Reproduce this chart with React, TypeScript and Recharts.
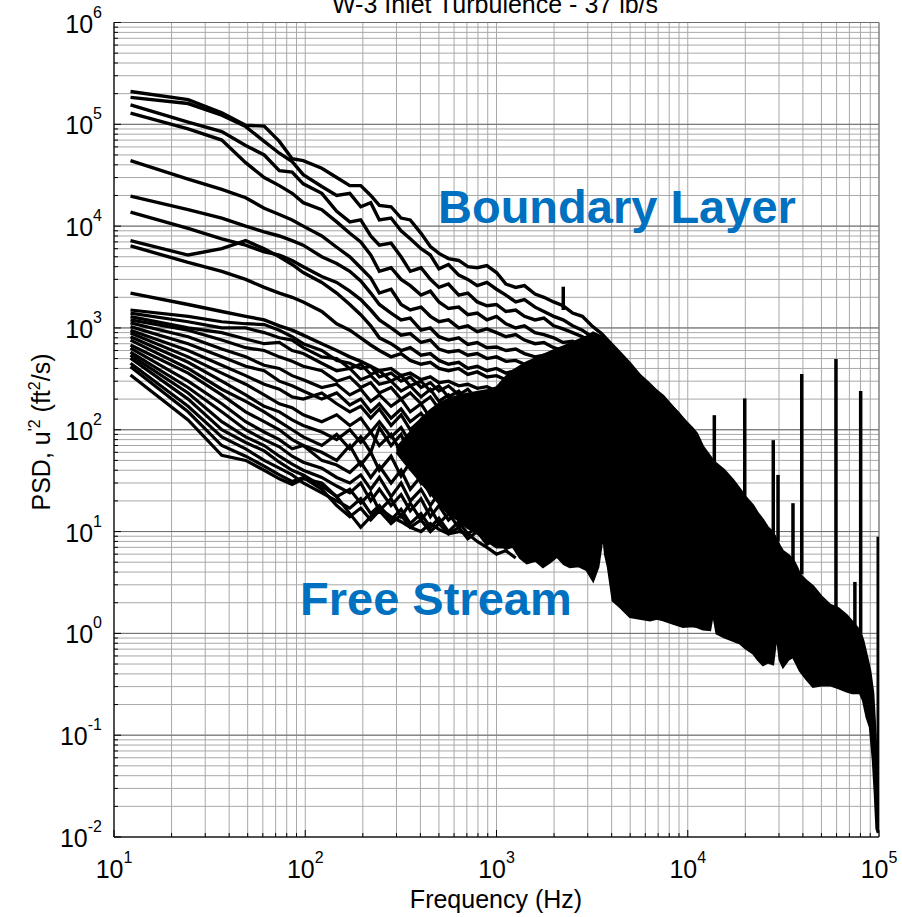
import React from "react";
import { ComposedChart, Line, Area, XAxis, YAxis, CartesianGrid } from "recharts";

const FONT = "'Liberation Sans', Arial, Helvetica, sans-serif";
const BLUE = "#0070C0";

// axis ticks (decades + 2..9 minors)
const xMajor = [10, 100, 1000, 10000, 100000];
const yMajor = [0.01, 0.1, 1, 10, 100, 1000, 10000, 100000, 1000000];
const minorSteps = [2, 3, 4, 5, 6, 7, 8, 9];

const withMinors = (majors: number[]) =>
  [...majors, ...majors.slice(0, -1).flatMap((d) => minorSteps.map((m) => d * m))].sort((a, b) => a - b);
const xTicks = withMinors(xMajor);
const yTicks = withMinors(yMajor);

// frequency bins used by the individual PSD curves (Hz)
const freqHz = [
  12.2, 24.4, 36.6, 48.8, 61, 73.2, 85.4, 97.6, 122, 146, 171, 195, 220, 244, 281, 317, 354, 403, 451, 500,
  561, 635, 708, 793, 891, 1000, 1120, 1260, 1400, 1590, 1770, 1990, 2230, 2500, 2810, 3150, 3540, 3970, 4450,
  5000, 5610, 6300, 7070, 7940, 8910, 10000,
];

// boundary layer probes (ft^2/s)
const bl1 = [2.1e5, 1.75e5, 1.3e5, 9.8e4, 9.6e4, 6.8e4, 4.6e4, 4.4e4, 3.7e4, 3.0e4, 2.5e4, 2.5e4, 2.0e4, 1.6e4, 1.55e4, 1.2e4, 1.15e4, 8.5e3, 6.3e3, 5.4e3, 4.8e3, 4.6e3, 4.0e3, 3.9e3, 4.1e3, 3.5e3, 2.7e3, 2.5e3, 2.6e3, 2.15e3, 2.0e3, 1.8e3, 1.65e3, 1.4e3, 1.3e3, 1.05e3, 880, 700, 560, 440, 340, 280, 225, 180, 145, 112];
const bl2 = [1.84e5, 1.6e5, 1.23e5, 9.5e4, 6.8e4, 5.2e4, 4.3e4, 3.2e4, 2.45e4, 2.0e4, 2.1e4, 1.55e4, 1.7e4, 1.15e4, 1.2e4, 9.0e3, 7.5e3, 6.0e3, 5.2e3, 3.8e3, 4.2e3, 3.3e3, 3.0e3, 2.6e3, 2.8e3, 2.4e3, 2.1e3, 1.8e3, 1.9e3, 1.6e3, 1.45e3, 1.3e3, 1.2e3, 1.05e3, 950, 820, 720, 600, 500, 400, 320, 260, 215, 170, 135, 105];
const bl3 = [1.55e5, 1.05e5, 8.5e4, 6.2e4, 5.0e4, 3.5e4, 3.4e4, 2.6e4, 2.1e4, 1.4e4, 1.1e4, 1.15e4, 8.0e3, 6.5e3, 6.8e3, 5.0e3, 3.6e3, 3.9e3, 3.0e3, 2.5e3, 2.7e3, 2.1e3, 2.2e3, 1.8e3, 1.65e3, 1.7e3, 1.45e3, 1.5e3, 1.3e3, 1.2e3, 1.25e3, 1.05e3, 980, 900, 820, 700, 620, 520, 450, 370, 300, 250, 205, 160, 130, 100];
const bl4 = [1.29e5, 9.0e4, 7.0e4, 4.2e4, 3.0e4, 2.5e4, 2.1e4, 1.7e4, 1.45e4, 1.1e4, 8.5e3, 7.0e3, 5.2e3, 3.6e3, 3.9e3, 3.0e3, 2.6e3, 2.1e3, 2.3e3, 1.8e3, 1.55e3, 1.6e3, 1.35e3, 1.4e3, 1.2e3, 1.3e3, 1.1e3, 1.0e3, 1.05e3, 900, 860, 800, 720, 740, 640, 560, 490, 430, 390, 330, 280, 235, 190, 150, 122, 96];
const bl5 = [4.4e4, 2.9e4, 2.3e4, 1.9e4, 1.5e4, 1.3e4, 1.15e4, 1.0e4, 8.0e3, 6.2e3, 5.0e3, 3.9e3, 3.1e3, 2.2e3, 2.4e3, 1.7e3, 1.5e3, 1.6e3, 1.3e3, 1.15e3, 1.2e3, 1.0e3, 1.05e3, 920, 980, 900, 820, 860, 760, 700, 720, 640, 600, 560, 580, 500, 450, 400, 360, 310, 265, 220, 180, 145, 118, 92];
const bl6 = [1.97e4, 1.45e4, 1.2e4, 1.0e4, 8.8e3, 8.0e3, 7.2e3, 6.5e3, 5.0e3, 4.3e3, 3.6e3, 2.9e3, 2.2e3, 1.7e3, 1.4e3, 1.2e3, 1.25e3, 950, 1.0e3, 820, 760, 800, 690, 720, 640, 650, 600, 620, 560, 520, 540, 480, 470, 440, 450, 400, 380, 350, 320, 280, 240, 205, 170, 140, 112, 88];
const bl7 = [1.37e4, 9.5e3, 7.5e3, 6.5e3, 5.6e3, 5.2e3, 4.6e3, 4.0e3, 3.2e3, 2.8e3, 2.3e3, 1.9e3, 1.5e3, 1.2e3, 1.0e3, 850, 880, 720, 760, 620, 580, 600, 540, 560, 500, 520, 470, 480, 440, 420, 430, 390, 400, 370, 380, 340, 330, 300, 280, 250, 220, 190, 160, 132, 108, 85];
const bl8 = [7.2e3, 5.2e3, 6.0e3, 7.2e3, 6.0e3, 5.0e3, 4.2e3, 3.5e3, 2.8e3, 2.2e3, 1.7e3, 1.35e3, 1.05e3, 800, 700, 600, 640, 540, 560, 480, 440, 460, 400, 420, 380, 400, 360, 380, 340, 320, 340, 310, 320, 290, 300, 280, 270, 250, 240, 215, 190, 170, 145, 120, 100, 80];
const bl9 = [6.4e3, 4.4e3, 3.6e3, 3.0e3, 2.5e3, 2.2e3, 2.0e3, 1.8e3, 1.45e3, 1.1e3, 950, 800, 680, 600, 520, 560, 480, 440, 460, 400, 380, 400, 350, 370, 330, 340, 310, 320, 290, 280, 300, 270, 280, 260, 265, 245, 240, 225, 215, 195, 175, 155, 135, 112, 95, 76];
const bl10 = [2.2e3, 1.7e3, 1.45e3, 1.3e3, 1.2e3, 1.05e3, 950, 850, 700, 600, 520, 470, 420, 380, 400, 340, 360, 310, 330, 290, 300, 270, 280, 255, 265, 240, 250, 230, 235, 215, 225, 205, 210, 195, 200, 185, 180, 170, 165, 150, 138, 125, 110, 95, 82, 68];

// free stream probes, first 28 bins (to ~1.3 kHz)
const fs1 = [1500, 1300, 1150, 1100, 1080, 950, 820, 700, 600, 480, 450, 400, 420, 330, 360, 300, 330, 260, 290, 240, 270, 220, 250, 200, 230, 190, 210, 175];
const fs2 = [1400, 1150, 1000, 1000, 900, 800, 760, 640, 520, 500, 400, 440, 350, 380, 300, 340, 270, 300, 240, 270, 210, 240, 190, 220, 170, 190, 160, 175];
const fs3 = [1290, 1000, 900, 780, 700, 720, 600, 560, 450, 380, 400, 310, 340, 280, 300, 240, 270, 210, 250, 190, 220, 175, 200, 160, 180, 145, 165, 140];
const fs4 = [1200, 950, 760, 640, 600, 520, 470, 420, 380, 300, 330, 260, 290, 230, 260, 200, 230, 180, 210, 160, 190, 140, 165, 130, 150, 120, 140, 115];
const fs5 = [1120, 820, 620, 520, 430, 400, 340, 310, 260, 280, 220, 250, 190, 220, 170, 200, 150, 180, 130, 160, 120, 140, 110, 130, 95, 115, 90, 100];
const fs6 = [1030, 700, 520, 420, 380, 300, 270, 240, 200, 230, 175, 200, 150, 180, 130, 160, 120, 145, 110, 130, 95, 115, 85, 100, 75, 90, 70, 80];
const fs7 = [950, 600, 430, 340, 280, 250, 210, 200, 230, 180, 150, 170, 130, 160, 110, 140, 100, 125, 90, 110, 80, 95, 70, 85, 62, 75, 56, 65];
const fs8 = [890, 520, 360, 280, 220, 180, 165, 140, 120, 140, 110, 130, 95, 120, 85, 105, 75, 95, 65, 85, 60, 75, 52, 65, 45, 55, 40, 48];
const fs9 = [820, 460, 300, 220, 170, 150, 125, 110, 95, 80, 100, 75, 95, 70, 90, 60, 80, 55, 70, 50, 65, 45, 58, 40, 50, 36, 44, 32];
const fs10 = [760, 400, 250, 190, 150, 120, 100, 85, 70, 90, 65, 85, 60, 105, 70, 90, 55, 75, 48, 62, 42, 55, 36, 48, 32, 40, 28, 34];
const fs11 = [680, 360, 220, 150, 120, 100, 80, 70, 60, 50, 70, 45, 60, 40, 55, 35, 48, 30, 42, 28, 36, 24, 32, 21, 28, 18, 24, 16];
const fs12 = [635, 300, 180, 120, 95, 80, 65, 70, 50, 45, 38, 48, 34, 44, 30, 40, 26, 35, 23, 30, 20, 27, 18, 24, 16, 20, 14, 17];
const fs13 = [580, 260, 150, 100, 80, 68, 55, 48, 42, 34, 30, 36, 26, 34, 22, 30, 20, 26, 18, 24, 16, 21, 14, 18, 12.5, 15, 11, 13];
const fs14 = [540, 230, 120, 85, 70, 55, 46, 40, 34, 28, 24, 30, 20, 26, 18, 23, 16, 21, 14, 18, 13, 16, 11.5, 14, 10.5, 12.5, 9.5, 11];
const fs15 = [505, 200, 100, 75, 62, 48, 40, 36, 28, 22, 26, 19, 24, 16, 21, 14, 19, 13, 17, 12, 15, 11, 13.5, 10, 12, 9, 10.5, 8.5];
const fs16 = [450, 170, 85, 65, 50, 42, 36, 30, 24, 20, 17, 21, 15, 18, 13, 16.5, 12, 15, 11, 13.5, 10, 12.5, 9.5, 11, 8.5, 10, 7.5, 8.5];
const fs17 = [415, 150, 70, 55, 44, 36, 31, 34, 26, 18, 14, 17, 13, 16, 12, 14.5, 11, 13, 10, 12, 9.5, 11, 8.5, 10, 7.5, 8.5, 6.8, 7.5];
const fs18 = [345, 125, 56, 50, 40, 33, 29, 33, 30, 22, 15, 11, 14, 17, 14, 12.5, 11, 10, 12, 10.5, 9.5, 10, 9.5, 8, 7, 6, 6.5, 5.5];

// envelope of the dense cloud where all probes overlap
const bandHz = [300, 350, 400, 450, 500, 560, 630, 700, 800, 900, 1000, 1120, 1220, 1330, 1440, 1600, 1750, 1900, 2070, 2250, 2420, 2680, 2960, 3200, 3400, 3520, 3610, 3700, 3830, 4060, 4450, 4990, 5610, 6350, 6900, 7430, 8400, 9450, 10500, 11140, 12020, 13070, 13550, 14170, 15500, 17240, 18750, 20000, 21930, 23300, 24740, 26200, 27900, 29190, 30300, 31490, 33500, 35500, 37100, 38600, 41500, 45200, 50000, 55500, 61500, 67800, 72500, 79600, 82600, 86300, 89800, 93100, 95300, 97200, 99100];
const bandLow = [60, 42, 31, 24, 19, 15, 13, 11, 9.5, 8, 7, 7.0, 7.1, 5.5, 4.9, 5.2, 4.5, 5.0, 5.7, 4.8, 4.5, 4.6, 4.2, 3.3, 4.5, 7.0, 9.7, 6.0, 4.5, 2.1, 1.8, 1.45, 1.4, 1.35, 1.4, 1.35, 1.25, 1.16, 1.18, 1.16, 1.1, 1.08, 1.6, 1.0, 0.92, 0.85, 0.8, 0.72, 0.64, 0.55, 0.49, 0.52, 0.5, 1.0, 0.55, 0.47, 0.55, 0.59, 0.5, 0.43, 0.36, 0.3, 0.31, 0.31, 0.29, 0.27, 0.26, 0.26, 0.22, 0.15, 0.12, 0.056, 0.026, 0.012, 0.011];
const bandHigh = [66, 92, 125, 155, 180, 200, 215, 225, 235, 245, 260, 330, 380, 420, 460, 500, 540, 580, 620, 660, 700, 760, 820, 900, 850, 820, 800, 760, 700, 640, 540, 430, 340, 270, 240, 215, 165, 128, 105, 92, 68, 55, 50, 46, 40, 32, 26, 22, 18, 15, 13, 11, 9.8, 8.2, 7.2, 6.4, 5.9, 5.3, 4.5, 3.8, 3.3, 2.9, 2.3, 1.9, 1.75, 1.5, 1.3, 1.05, 0.85, 0.6, 0.43, 0.26, 0.12, 0.056, 0.025];

// narrow tonal peaks
const spikeHz = [2234, 13770, 19860, 28000, 29650, 35500, 39450, 59560, 74800, 80200, 99100];
const spikeBase = [1500, 45, 20, 9, 8, 5, 3.8, 1.8, 1.2, 1.0, 0.011];
const spikePeak = [2540, 139, 203, 79, 36, 19, 352, 495, 3.2, 240, 8.9];

const boundaryLayer = [bl1, bl2, bl3, bl4, bl5, bl6, bl7, bl8, bl9, bl10];
const freeStream = [fs1, fs2, fs3, fs4, fs5, fs6, fs7, fs8, fs9, fs10, fs11, fs12, fs13, fs14, fs15, fs16, fs17, fs18];

const toSeries = (vals: number[]) => vals.map((v, i) => ({ f: freqHz[i], v }));
const bandData = bandHz.map((f, i) => ({ f, range: [bandLow[i], bandHigh[i]] }));
const spikeData = spikeHz.map((f, i) => [
  { f, v: spikeBase[i] },
  { f, v: spikePeak[i] },
]);

const expOf = (v: number) => String(Math.round(Math.log10(v)));

const BottomTick = (p: any) => {
  const v = p.payload.value;
  const major = xMajor.includes(v);
  return (
    <g>
      <line x1={p.x} x2={p.x} y1={p.y} y2={p.y - (major ? 7 : 4)} stroke="#000" />
      {major && (
        <text x={p.x} y={p.y + 41} textAnchor="middle" fontFamily={FONT} fontSize={25} fill="#000">
          10<tspan dy={-15} fontSize={16}>{expOf(v)}</tspan>
        </text>
      )}
    </g>
  );
};

const TopTick = (p: any) => {
  const major = xMajor.includes(p.payload.value);
  return <line x1={p.x} x2={p.x} y1={p.y} y2={p.y + (major ? 7 : 4)} stroke="#000" />;
};

const LeftTick = (p: any) => {
  const v = p.payload.value;
  const major = yMajor.includes(v);
  return (
    <g>
      <line x1={p.x} x2={p.x + (major ? 7 : 4)} y1={p.y} y2={p.y} stroke="#000" />
      {major && (
        <text x={p.x - 12} y={p.y + 10} textAnchor="end" fontFamily={FONT} fontSize={25} fill="#000">
          10<tspan dy={-15} fontSize={16}>{expOf(v)}</tspan>
        </text>
      )}
    </g>
  );
};

const RightTick = (p: any) => {
  const major = yMajor.includes(p.payload.value);
  return <line x1={p.x} x2={p.x - (major ? 7 : 4)} y1={p.y} y2={p.y} stroke="#000" />;
};

const logX = { type: "number" as const, scale: "log" as const, domain: [10, 100000], allowDataOverflow: true };
const logY = { type: "number" as const, scale: "log" as const, domain: [0.01, 1000000], allowDataOverflow: true };

export default function App() {
  return (
    <div style={{ position: "absolute", left: 0, top: 0, width: 902, height: 917, background: "#fff" }}>
      <ComposedChart width={902} height={917} data={bandData} margin={{ top: 22.5, right: 23, bottom: 0, left: 0 }}>
        <CartesianGrid stroke="#a8a8a8" strokeWidth={1} />
        <CartesianGrid xAxisId="maj" yAxisId="maj" stroke="#6e6e6e" strokeWidth={1} />
        <XAxis
          {...logX}
          dataKey="f"
          ticks={xTicks}
          interval={0}
          height={80}
          tickSize={0}
          tickMargin={0}
          tickLine={false}
          axisLine={{ stroke: "#000" }}
          tick={BottomTick}
        />
        <XAxis
          {...logX}
          xAxisId="top"
          orientation="top"
          ticks={xTicks}
          interval={0}
          height={0}
          tickSize={0}
          tickMargin={0}
          tickLine={false}
          axisLine={{ stroke: "#000" }}
          tick={TopTick}
        />
        <XAxis {...logX} xAxisId="maj" ticks={xMajor} hide />
        <YAxis
          {...logY}
          ticks={yTicks}
          interval={0}
          width={114}
          tickSize={0}
          tickMargin={0}
          tickLine={false}
          axisLine={{ stroke: "#000" }}
          tick={LeftTick}
        />
        <YAxis
          {...logY}
          yAxisId="right"
          orientation="right"
          ticks={yTicks}
          interval={0}
          width={0}
          tickSize={0}
          tickMargin={0}
          tickLine={false}
          axisLine={{ stroke: "#000" }}
          tick={RightTick}
        />
        <YAxis {...logY} yAxisId="maj" ticks={yMajor} hide />

        <Area
          dataKey="range"
          type="linear"
          stroke="#000"
          strokeWidth={2.5}
          fill="#000"
          fillOpacity={1}
          dot={false}
          activeDot={false}
          isAnimationActive={false}
        />
        {freeStream.map((vals, i) => (
          <Line
            key={`fs${i}`}
            data={toSeries(vals)}
            dataKey="v"
            type="linear"
            stroke="#000"
            strokeWidth={3.2}
            dot={false}
            activeDot={false}
            isAnimationActive={false}
          />
        ))}
        {boundaryLayer.map((vals, i) => (
          <Line
            key={`bl${i}`}
            data={toSeries(vals)}
            dataKey="v"
            type="linear"
            stroke="#000"
            strokeWidth={3.4}
            dot={false}
            activeDot={false}
            isAnimationActive={false}
          />
        ))}
        {spikeData.map((d, i) => (
          <Line
            key={`sp${i}`}
            data={d}
            dataKey="v"
            type="linear"
            stroke="#000"
            strokeWidth={3.5}
            dot={false}
            activeDot={false}
            isAnimationActive={false}
          />
        ))}
      </ComposedChart>

      <svg
        width={902}
        height={917}
        style={{ position: "absolute", left: 0, top: 0, pointerEvents: "none" }}
      >
        <text x={495} y={13} textAnchor="middle" fontFamily={FONT} fontSize={25} fill="#000">
          W-3 Inlet Turbulence - 37 lb/s
        </text>
        <text x={496} y={908} textAnchor="middle" fontFamily={FONT} fontSize={25} fill="#000">
          Frequency (Hz)
        </text>
        <text transform="translate(50, 432) rotate(-90)" textAnchor="middle" fontFamily={FONT} fontSize={25} fill="#000">
          PSD, u<tspan dy={-10} fontSize={16}>'2</tspan>
          <tspan dy={10}> (ft</tspan>
          <tspan dy={-10} fontSize={16}>2</tspan>
          <tspan dy={10}>/s)</tspan>
        </text>
        <text x={438} y={223} fontFamily={FONT} fontSize={47} fontWeight="bold" fill={BLUE}>
          Boundary Layer
        </text>
        <text x={300} y={615} fontFamily={FONT} fontSize={47} fontWeight="bold" fill={BLUE}>
          Free Stream
        </text>
      </svg>
    </div>
  );
}
